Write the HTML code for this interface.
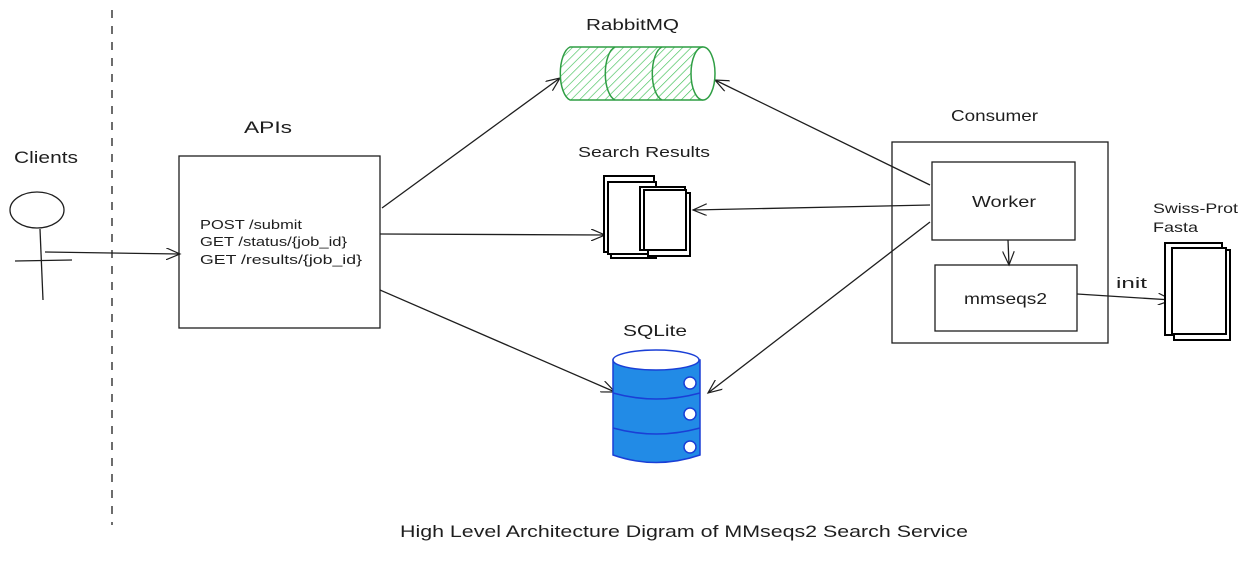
<!DOCTYPE html>
<html><head><meta charset="utf-8"><style>
html,body{margin:0;padding:0;background:#fff;}
svg{display:block;}
text{font-family:"Liberation Sans",sans-serif;fill:#1e1e1e;}
</style></head><body>
<svg width="1249" height="579" viewBox="0 0 1249 579" xmlns="http://www.w3.org/2000/svg">
<defs>
<pattern id="hatch" width="6" height="6" patternUnits="userSpaceOnUse" patternTransform="rotate(45)">
<line x1="0" y1="0" x2="0" y2="6" stroke="#40c057" stroke-width="1.3"/>
</pattern>
<marker id="ah" markerWidth="16" markerHeight="12" refX="14" refY="6" orient="auto" markerUnits="userSpaceOnUse">
<path d="M0,0 L14,6 L0,12" fill="none" stroke="#1e1e1e" stroke-width="1.2"/>
</marker>
</defs>
<g fill="none" stroke="#1e1e1e" stroke-width="1.3">
<line x1="112" y1="10" x2="112" y2="525" stroke-dasharray="8,8"/>
<ellipse cx="37" cy="210" rx="27" ry="18"/>
<line x1="40" y1="229" x2="43" y2="300"/>
<line x1="15" y1="261" x2="72" y2="260"/>
<line x1="45" y1="252" x2="180" y2="254" marker-end="url(#ah)"/>
<rect x="179" y="156" width="201" height="172"/>
<line x1="382" y1="208" x2="560" y2="78" marker-end="url(#ah)"/>
<line x1="930" y1="185" x2="715" y2="80" marker-end="url(#ah)"/>
<line x1="380" y1="234" x2="605" y2="235" marker-end="url(#ah)"/>
<line x1="930" y1="205" x2="693" y2="210" marker-end="url(#ah)"/>
<line x1="380" y1="290" x2="615" y2="392" marker-end="url(#ah)"/>
<line x1="930" y1="222" x2="708" y2="393" marker-end="url(#ah)"/>
<rect x="892" y="142" width="216" height="201"/>
<rect x="932" y="162" width="143" height="78"/>
<rect x="935" y="265" width="142" height="66"/>
<line x1="1008" y1="240" x2="1009" y2="265" marker-end="url(#ah)"/>
<line x1="1077" y1="294" x2="1172" y2="300" marker-end="url(#ah)"/>
</g>
<g stroke="#2f9e44" stroke-width="1.5">
<path d="M570,47 L703,47 A12,27 0 0 1 703,100 L570,100 A12,27 0 0 1 570,47 Z" fill="url(#hatch)"/>
<ellipse cx="703" cy="73.5" rx="12" ry="26.5" fill="#fff"/>
<path d="M615,47 A12,27 0 0 0 615,100" fill="none"/>
<path d="M662,47 A12,27 0 0 0 662,100" fill="none"/>
</g>
<g fill="#fff" stroke="#000" stroke-width="2">
<rect x="611" y="200" width="45" height="58"/>
<rect x="604" y="176" width="50" height="76"/>
<rect x="608" y="182" width="48" height="72"/>
<rect x="640" y="187" width="45" height="63"/>
<rect x="648" y="193" width="42" height="63"/>
<rect x="644" y="190" width="42" height="60"/>
</g>
<g stroke="#1a3fd6" stroke-width="1.5">
<path d="M613,360 L613,455 Q656,470 700,455 L700,360 Z" fill="#228be6"/>
<ellipse cx="656" cy="360" rx="43" ry="10" fill="#fff"/>
<path d="M613,393 Q656,405 700,393" fill="none"/>
<path d="M613,428 Q656,440 700,428" fill="none"/>
<circle cx="690" cy="383" r="6" fill="#fff"/>
<circle cx="690" cy="414" r="6" fill="#fff"/>
<circle cx="690" cy="447" r="6" fill="#fff"/>
</g>
<g fill="#fff" stroke="#000" stroke-width="2">
<rect x="1165" y="243" width="57" height="92"/>
<rect x="1174" y="250" width="56" height="90"/>
<rect x="1172" y="248" width="54" height="86"/>
</g>
<text x="14" y="163" font-size="17" textLength="64" lengthAdjust="spacingAndGlyphs">Clients</text>
<text x="244" y="133" font-size="17" textLength="48" lengthAdjust="spacingAndGlyphs">APIs</text>
<text x="200" y="229" font-size="13" textLength="102" lengthAdjust="spacingAndGlyphs">POST /submit</text>
<text x="200" y="246" font-size="13" textLength="147" lengthAdjust="spacingAndGlyphs">GET /status/{job_id}</text>
<text x="200" y="264" font-size="13" textLength="162" lengthAdjust="spacingAndGlyphs">GET /results/{job_id}</text>
<text x="586" y="30" font-size="16" textLength="93" lengthAdjust="spacingAndGlyphs">RabbitMQ</text>
<text x="578" y="157" font-size="15" textLength="132" lengthAdjust="spacingAndGlyphs">Search Results</text>
<text x="623" y="336" font-size="16" textLength="64" lengthAdjust="spacingAndGlyphs">SQLite</text>
<text x="951" y="121" font-size="16" textLength="87" lengthAdjust="spacingAndGlyphs">Consumer</text>
<text x="972" y="207" font-size="16" textLength="64" lengthAdjust="spacingAndGlyphs">Worker</text>
<text x="964" y="304" font-size="16" textLength="83" lengthAdjust="spacingAndGlyphs">mmseqs2</text>
<text x="1116" y="288" font-size="15" textLength="31" lengthAdjust="spacingAndGlyphs">init</text>
<text x="1153" y="213" font-size="14" textLength="85" lengthAdjust="spacingAndGlyphs">Swiss-Prot</text>
<text x="1153" y="232" font-size="14" textLength="45" lengthAdjust="spacingAndGlyphs">Fasta</text>
<text x="400" y="537" font-size="17" textLength="568" lengthAdjust="spacingAndGlyphs">High Level Architecture Digram of MMseqs2 Search Service</text>
</svg>
</body></html>
